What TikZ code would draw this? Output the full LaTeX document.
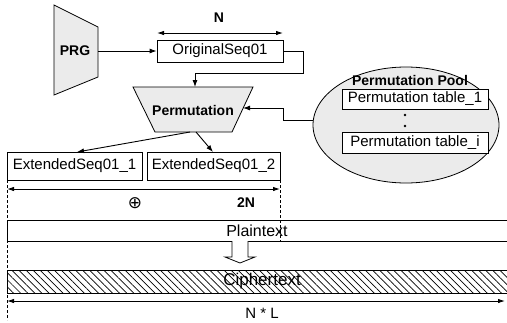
\documentclass[tikz,border=0pt]{standalone}
\usepackage{fontspec}
\setmainfont{Liberation Sans}
\newfontfamily\symbfont{DejaVu Sans}
\usetikzlibrary{arrows.meta,patterns.meta}
\tikzset{
  lbl/.style={font=\fontsize{15}{18}\selectfont, inner sep=0pt},
  blbl/.style={font=\fontsize{14}{17}\selectfont\bfseries, inner sep=0pt},
  seqbox/.style={draw, line width=0.8pt, font=\fontsize{15}{18}\selectfont, inner sep=0pt, minimum height=#1},
  shadefill/.style={fill=gray!16, draw, line width=0.8pt},
  conn/.style={line width=0.9pt, -{Latex[length=7pt,width=5pt]}},
  dim/.style={line width=0.9pt, {Latex[length=7pt,width=4.5pt]}-{Latex[length=7pt,width=4.5pt]}},
  dashv/.style={dashed, line width=0.6pt, dash pattern=on 3pt off 2pt},
}
\begin{document}
\begin{tikzpicture}[x=1pt,y=-1pt]
\useasboundingbox (0,0) rectangle (507,322);

% PRG trapezoid
\draw[shadefill] (54,5) -- (98,27) -- (98,77) -- (54,95) -- cycle;
\node[blbl] (prg) at (75,51) {PRG};
\coordinate (prgR) at (98,51);

% OriginalSeq01
\node[seqbox=22pt, minimum width=126pt] (orig) at (220,51) {OriginalSeq01};
\draw[dim] (157,33) -- (283,33);
\node[blbl] (nlab) at (219,18) {N};
\draw[conn] (prgR) -- (orig.west);

% Permutation trapezoid
\draw[shadefill] (133,87) -- (253,87) -- (232,132) -- (155,132) -- cycle;
\node[blbl] (perm) at (193,110) {Permutation};
\coordinate (permT) at (195,87);
\coordinate (permR) at (243,108);
\coordinate (permB1) at (190,132);
\coordinate (permB2) at (196,132);

\draw[line width=0.9pt] (orig.east) -- (303,51) -- (303,73) -- (195,73);
\draw[conn] (195,73) -- (permT);

% Pool ellipse
\draw[shadefill] (406,125) ellipse [x radius=93, y radius=58];
\coordinate (poolW) at (313,120);
\node[blbl] (pooltitle) at (410,80) {Permutation Pool};
\node[seqbox=20pt, minimum width=146pt, fill=white] (t1) at (415,99) {Permutation table\_1};
\node[seqbox=21pt, minimum width=146pt, fill=white] (ti) at (415,142.5) {Permutation table\_i};
\fill (405,115) circle (1.3pt);
\fill (405,126) circle (1.3pt);
\draw[line width=0.9pt] (poolW) -- (283,120) -- (283,108);
\draw[conn] (283,108) -- (permR);

% Extended sequences
\node[seqbox=28pt, minimum width=135pt] (ext1) at (74.5,166) {ExtendedSeq01\_1};
\node[seqbox=28pt, minimum width=133pt] (ext2) at (213.5,166) {ExtendedSeq01\_2};
\draw[conn] (permB1) -- (77,152);
\draw[conn] (permB2) -- (213,152);

% 2N dimension
\draw[dashv] (7,180) -- (7,320);
\draw[dashv] (280,180) -- (280,241);
\draw[dim] (7,189) -- (280,189);
\node[inner sep=0pt, font=\symbfont\fontsize{17}{20}\selectfont] (xor) at (135,203) {⊕};
\node[blbl] (twon) at (246,203) {2N};

% Plaintext
\draw[line width=0.8pt] (507,220) -- (7,220) -- (7,241) -- (507,241);
\node[lbl, font=\fontsize{16}{19}\selectfont] (plain) at (257,231) {Plaintext};

% hollow arrow
\draw[line width=0.8pt, fill=white] (232,241) -- (232,257) -- (225,257) -- (240,263) -- (255,257) -- (248,257) -- (248,241);

% Ciphertext
\fill[pattern={Lines[angle=-45,distance=5pt,line width=0.7pt]}] (7,270) rectangle (507,293);
\draw[line width=0.8pt] (507,270) -- (7,270) -- (7,293) -- (507,293);
\node[lbl, font=\fontsize{17}{20}\selectfont] (cipher) at (262,281.5) {Ciphertext};

% N*L
\draw[dim] (7,301) -- (505,301);
\node[lbl] (nl) at (262,313) {N * L};
\end{tikzpicture}
\end{document}
